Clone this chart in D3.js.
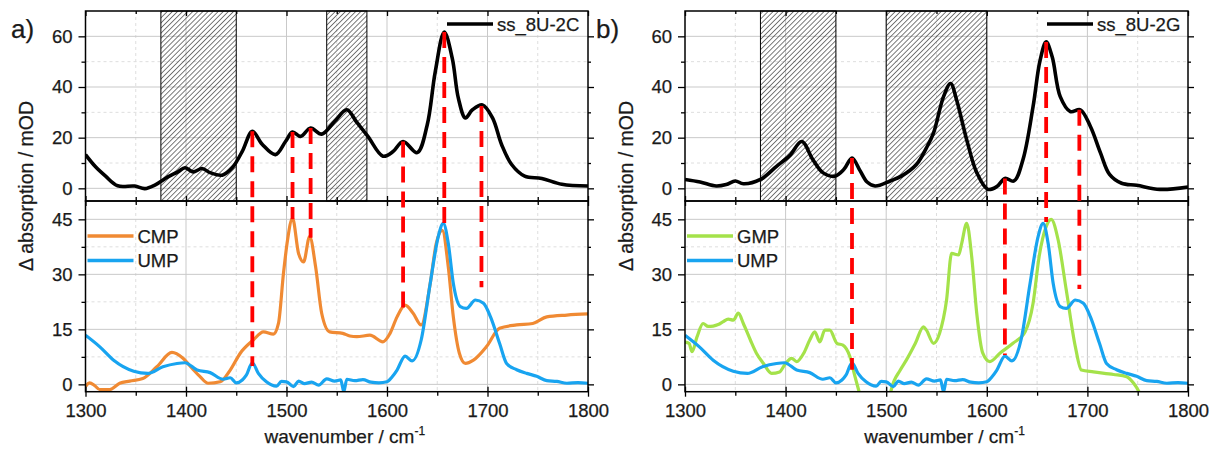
<!DOCTYPE html>
<html>
<head>
<meta charset="utf-8">
<script src="https://cdnjs.cloudflare.com/ajax/libs/d3/7.8.5/d3.min.js"></script>
<style>
body{margin:0;background:#fff;}
text{font-family:"Liberation Sans",Arial,sans-serif;fill:#1a1a1a;stroke:#1a1a1a;stroke-width:0.25px;}
.gridMajor{stroke:#c9c9c9;stroke-width:1;}
.gridMinor{stroke:#dedede;stroke-width:1;stroke-dasharray:3,3;}
.axis path{display:none;}
.axis line{stroke:#000;stroke-width:1.3;}
.axis text{font-size:18.5px;}
.frame{fill:none;stroke:#000;stroke-width:1.5;}
</style>
</head>
<body>
<script>
(function(){

//x axis ticks shared by all four plots
var xTicks = [1300,1400,1500,1600,1700,1800];
var xMinor = [1350,1450,1550,1650,1750];
var topTicks = [0,20,40,60];
var topMinor = [10,30,50];
var bottomTicks = [0,15,30,45];
var bottomMinor = [7.5,22.5,37.5];

//panel a, upper plot: ss_8U-2C
var ss2C_wn = [1300,1310,1320,1332,1349,1359,1369,1382,1392,1399,1407,1416,1424,1436,1446,1456,1466,1476,1489,1499,1506,1514,1524,1535,1548,1560,1570,1581,1596,1606,1616,1630,1640,1648,1657,1665,1671,1678,1685,1695,1705,1714,1724,1737,1754,1774,1800];
var ss2C_abs = [13.3,8.5,4.8,1.0,0.9,-0.1,1.3,4.5,6.5,8.1,6.5,7.8,6.2,5.2,8.1,14.6,22.5,17.3,13.3,18.5,22.2,20.5,23.8,21.4,26.5,31,26,20.5,12.7,14.5,18.5,14.1,25,46,61.7,51.2,35.6,27.8,31,32.9,27.8,17.3,9.4,4.8,3.9,1.6,0.9];

//panel b, upper plot: ss_8U-2G
var ss2G_wn = [1300,1315,1331,1341,1350,1358,1375,1391,1404,1416,1427,1437,1449,1458,1466,1474,1481,1489,1504,1515,1530,1540,1547,1557,1564,1570,1580,1590,1601,1610,1618,1627,1636,1646,1653,1659,1665,1673,1683,1693,1703,1713,1722,1734,1749,1772,1800];
var ss2G_abs = [3.5,2.5,0.9,1.5,2.9,1.8,3.5,8.7,12.9,18.5,11.4,6.2,4.8,7.5,12,7,2.5,0.9,2.9,4.8,9.4,16,21.8,36.2,41.4,34.9,19.2,6.2,-0.4,0.7,3.9,2.9,11.4,32.3,50.6,57.8,51.9,36.2,30.3,31,24.4,14,5.5,2,1.2,-0.4,0.5];

//lower plots: CMP
var cmp_wn = [1300,1304,1309,1314,1324,1334,1344,1357,1371,1386,1397,1406,1414,1422,1434,1444,1454,1467,1477,1487,1492,1497,1501,1506,1512,1517,1523,1529,1535,1543,1556,1563,1570,1583,1596,1603,1610,1618,1626,1634,1643,1649,1655,1661,1666,1672,1678,1686,1699,1712,1729,1745,1759,1779,1800];
var cmp_abs = [-0.6,0.4,-0.3,-1.4,-1.4,0.3,0.9,1.6,4.8,8.7,7.1,4.4,2.1,0.3,0.7,3.9,8.5,12.1,14.3,13.7,16.6,30.3,39.3,45.3,35.7,33.4,40.3,32,19.4,14.3,13.9,13.2,13,13.4,11.6,13.9,18.4,21.6,19.4,16.2,27.5,38.4,42,32,18.4,8.5,5.7,6.6,10.3,15.3,16.2,16.6,18.4,18.9,19.2];

//UMP (same trace in both panels)
var ump_wn = [1300,1314,1328,1348,1362,1377,1391,1399,1411,1424,1437,1444,1450,1456,1460,1466,1472,1480,1490,1495,1500,1507,1512,1518,1525,1532,1540,1548,1554,1557,1560,1568,1576,1584,1592,1600,1605,1610,1618,1625,1634,1643,1651,1656,1661,1666,1673,1679,1688,1696,1703,1712,1719,1729,1739,1749,1759,1769,1779,1790,1800];
var ump_abs = [13.4,10.3,6.6,3.6,3.0,4.8,5.7,5.9,3.9,3.2,1.4,1.8,0.4,1.2,2.5,5.9,3.0,0.7,-0.5,0.8,0.7,-0.6,0.9,0.2,0.6,-0.2,1.5,0.9,1.2,-2,1.4,1.0,1.3,0.6,0.4,0.7,2.0,3.9,7.7,6.4,12.1,27.5,40.3,43.9,38.4,27.5,21.2,20.7,23,22.1,18.4,11.2,5.7,4.0,3.0,2.2,1.0,0.8,0.3,0.5,0.3];

//GMP
var gmp_wn = [1300,1304,1307,1312,1318,1323,1328,1333,1338,1343,1348,1353,1358,1365,1371,1378,1386,1394,1399,1406,1411,1418,1424,1429,1434,1439,1444,1451,1457,1464,1469,1474,1480,1500,1505,1514,1520,1529,1537,1540,1547,1553,1560,1565,1572,1575,1580,1585,1590,1596,1603,1613,1626,1638,1646,1652,1659,1664,1671,1679,1688,1694,1706,1726,1739,1746,1752,1756];
var gmp_abs = [11.5,11.2,8.9,13,16.6,15.8,15.9,16.3,17.1,17.8,17.5,19.4,16.6,12.1,8.5,5.7,3,3.4,5.3,7.1,6.2,8.5,12.1,14.3,11.6,14.8,14.8,11.2,10.7,7.5,2.1,-3,-10,-10,-1.5,3.9,6.6,11.2,15.7,14.8,11.2,13.9,23,35.7,35.3,38.4,43.9,34.8,19.4,8.5,6.2,8.5,11.2,14.3,22.1,34.8,43,45,39.3,25.7,10.3,3.9,3.4,2.7,2.1,0.3,-2.4,-5];

//hatched ranges in the upper plots
var hatchA = [[1375,1450],[1540,1580]];
var hatchB = [[1375,1450],[1500,1600]];

//red dashed markers: wavenumber, value in upper plot, value in lower plot
var markA_wn = [1466,1506,1524,1616,1657,1694];
var markA_top = [22.5,22.2,23.8,18.5,61.7,32.5];
var markA_bottom = [5,45,40,20,43,26.5];
var markB_wn = [1466,1618,1659,1692];
var markB_top = [12,3.9,57.8,31];
var markB_bottom = [4,8,44.3,26];

var colors = {ss:"#000000", cmp:"#f08a33", ump:"#18a4f0", gmp:"#a4e24a", mark:"#ff0000"};

var width = 1217, height = 450;

var svg = d3.select("body")
    .append("svg")
    .attr("width", width)
    .attr("height", height);

//hatch pattern
var defs = svg.append("defs");
defs.append("pattern")
    .attr("id", "hatch")
    .attr("patternUnits", "userSpaceOnUse")
    .attr("width", 3.6)
    .attr("height", 3.6)
    .attr("patternTransform", "rotate(45)")
    .append("line")
    .attr("x1", 0).attr("y1", 0)
    .attr("x2", 0).attr("y2", 3.6)
    .attr("stroke", "#222")
    .attr("stroke-width", 1.2);

function zip(xs, ys){
    return xs.map(function(x, i){ return [x, ys[i]]; });
}

drawPanel({
    id: "a", label: "a)", labelX: 11, left: 85.5, right: 588,
    topName: "ss_8U-2C", topData: zip(ss2C_wn, ss2C_abs),
    hatch: hatchA,
    bottomSeries: [
        {name: "CMP", color: colors.cmp, data: zip(cmp_wn, cmp_abs)},
        {name: "UMP", color: colors.ump, data: zip(ump_wn, ump_abs)}
    ],
    marks: {wn: markA_wn, top: markA_top, bottom: markA_bottom}
});

drawPanel({
    id: "b", label: "b)", labelX: 596, left: 685, right: 1188,
    topName: "ss_8U-2G", topData: zip(ss2G_wn, ss2G_abs),
    hatch: hatchB,
    bottomSeries: [
        {name: "GMP", color: colors.gmp, data: zip(gmp_wn, gmp_abs)},
        {name: "UMP", color: colors.ump, data: zip(ump_wn, ump_abs)}
    ],
    marks: {wn: markB_wn, top: markB_top, bottom: markB_bottom}
});

function drawPanel(p){
    var top0 = 11, mid = 201, bottom0 = 391.7;

    var x = d3.scaleLinear().domain([1300,1800]).range([p.left, p.right]);
    var yTop = d3.scaleLinear().domain([-5,70]).range([mid, top0]);
    var yBot = d3.scaleLinear().domain([-2,50]).range([bottom0, mid]);

    var g = svg.append("g").attr("class", "panel-" + p.id);

    //clip paths for both plots
    defs.append("clipPath").attr("id", "clipTop" + p.id)
        .append("rect").attr("x", p.left).attr("y", top0)
        .attr("width", p.right - p.left).attr("height", mid - top0);
    defs.append("clipPath").attr("id", "clipBot" + p.id)
        .append("rect").attr("x", p.left).attr("y", mid)
        .attr("width", p.right - p.left).attr("height", bottom0 - mid);

    //grid lines
    function grid(yScale, majors, minors, y0, y1){
        var gg = g.append("g");
        gg.selectAll(".gx").data(xTicks.slice(1, -1)).enter().append("line")
            .attr("class", "gridMajor")
            .attr("x1", function(d){ return x(d); }).attr("x2", function(d){ return x(d); })
            .attr("y1", y0).attr("y2", y1);
        gg.selectAll(".gxm").data(xMinor).enter().append("line")
            .attr("class", "gridMinor")
            .attr("x1", function(d){ return x(d); }).attr("x2", function(d){ return x(d); })
            .attr("y1", y0).attr("y2", y1);
        gg.selectAll(".gy").data(majors).enter().append("line")
            .attr("class", "gridMajor")
            .attr("y1", function(d){ return yScale(d); }).attr("y2", function(d){ return yScale(d); })
            .attr("x1", p.left).attr("x2", p.right);
        gg.selectAll(".gym").data(minors).enter().append("line")
            .attr("class", "gridMinor")
            .attr("y1", function(d){ return yScale(d); }).attr("y2", function(d){ return yScale(d); })
            .attr("x1", p.left).attr("x2", p.right);
    }
    grid(yTop, topTicks, topMinor, top0, mid);
    grid(yBot, bottomTicks, bottomMinor, mid, bottom0);

    //hatched regions
    g.selectAll(".hatch").data(p.hatch).enter().append("rect")
        .attr("class", "hatch")
        .attr("x", function(d){ return x(d[0]); })
        .attr("width", function(d){ return x(d[1]) - x(d[0]); })
        .attr("y", top0)
        .attr("height", mid - top0)
        .attr("fill", "url(#hatch)")
        .attr("stroke", "#000")
        .attr("stroke-width", 1);

    //upper curve
    var lineTop = d3.line()
        .x(function(d){ return x(d[0]); })
        .y(function(d){ return yTop(d[1]); })
        .curve(d3.curveCatmullRom.alpha(0.5));
    g.append("path")
        .datum(p.topData)
        .attr("clip-path", "url(#clipTop" + p.id + ")")
        .attr("d", lineTop)
        .attr("fill", "none")
        .attr("stroke", colors.ss)
        .attr("stroke-width", 3.6)
        .attr("stroke-linejoin", "round");

    //lower curves
    var lineBot = d3.line()
        .x(function(d){ return x(d[0]); })
        .y(function(d){ return yBot(d[1]); })
        .curve(d3.curveMonotoneX);
    g.selectAll(".series").data(p.bottomSeries).enter().append("path")
        .attr("clip-path", "url(#clipBot" + p.id + ")")
        .attr("d", function(d){ return lineBot(d.data); })
        .attr("fill", "none")
        .attr("stroke", function(d){ return d.color; })
        .attr("stroke-width", 3.2)
        .attr("stroke-linejoin", "round");

    //axes
    var fmt = d3.format("d");
    function axisG(gen, tx, ty){
        return g.append("g").attr("class", "axis")
            .attr("transform", "translate(" + tx + "," + ty + ")").call(gen);
    }
    //left
    axisG(d3.axisLeft(yTop).tickValues(topTicks).tickSize(7).tickPadding(6).tickFormat(fmt), p.left, 0);
    axisG(d3.axisLeft(yTop).tickValues(topMinor).tickSize(4).tickFormat(""), p.left, 0);
    axisG(d3.axisLeft(yBot).tickValues(bottomTicks).tickSize(7).tickPadding(6).tickFormat(fmt), p.left, 0);
    axisG(d3.axisLeft(yBot).tickValues(bottomMinor).tickSize(4).tickFormat(""), p.left, 0);
    //right (inward)
    axisG(d3.axisLeft(yTop).tickValues(topTicks).tickSize(6).tickFormat(""), p.right + 6, 0);
    axisG(d3.axisLeft(yTop).tickValues(topMinor).tickSize(3).tickFormat(""), p.right + 3, 0);
    axisG(d3.axisLeft(yBot).tickValues(bottomTicks).tickSize(6).tickFormat(""), p.right + 6, 0);
    axisG(d3.axisLeft(yBot).tickValues(bottomMinor).tickSize(3).tickFormat(""), p.right + 3, 0);
    //top (inward)
    axisG(d3.axisBottom(x).tickValues(xTicks).tickSize(5).tickFormat(""), 0, top0);
    axisG(d3.axisBottom(x).tickValues(xMinor).tickSize(3).tickFormat(""), 0, top0);
    //shared line (crossing ticks)
    axisG(d3.axisBottom(x).tickValues(xTicks).tickSize(10).tickFormat(""), 0, mid - 5);
    axisG(d3.axisBottom(x).tickValues(xMinor).tickSize(8).tickFormat(""), 0, mid - 4);
    //bottom
    axisG(d3.axisBottom(x).tickValues(xTicks).tickSize(10).tickFormat(""), 0, bottom0 - 5);
    axisG(d3.axisBottom(x).tickValues(xMinor).tickSize(4).tickFormat(""), 0, bottom0);
    axisG(d3.axisBottom(x).tickValues(xTicks).tickSize(0).tickPadding(12).tickFormat(fmt), 0, bottom0);

    //frames
    g.append("rect").attr("class", "frame")
        .attr("x", p.left).attr("y", top0)
        .attr("width", p.right - p.left).attr("height", mid - top0);
    g.append("rect").attr("class", "frame")
        .attr("x", p.left).attr("y", mid)
        .attr("width", p.right - p.left).attr("height", bottom0 - mid);

    //red dashed markers
    var marks = p.marks.wn.map(function(w, i){
        return [[x(w), yTop(p.marks.top[i])], [x(w), yBot(p.marks.bottom[i])]];
    });
    g.selectAll(".mark").data(marks).enter().append("path")
        .attr("d", d3.line())
        .attr("stroke", colors.mark)
        .attr("stroke-width", 3.8)
        .attr("stroke-dasharray", "16,9")
        .attr("fill", "none");

    //upper legend
    var lx = p.right - 141;
    g.append("line")
        .attr("x1", lx).attr("x2", lx + 46)
        .attr("y1", 24).attr("y2", 24)
        .attr("stroke", colors.ss).attr("stroke-width", 3.6);
    g.append("text")
        .attr("x", lx + 50).attr("y", 30.5)
        .style("font-size", "18.5px")
        .text(p.topName);

    //lower legend
    p.bottomSeries.forEach(function(s, i){
        var ly = 236 + i * 24.5;
        g.append("line")
            .attr("x1", p.left + 2).attr("x2", p.left + 48)
            .attr("y1", ly).attr("y2", ly)
            .attr("stroke", s.color).attr("stroke-width", 3.6);
        g.append("text")
            .attr("x", p.left + 52).attr("y", ly + 6.5)
            .style("font-size", "18.5px")
            .text(s.name);
    });

    //axis titles
    var xt = g.append("text")
        .attr("x", (p.left + p.right) / 2 + 8)
        .attr("y", 443)
        .attr("text-anchor", "middle")
        .style("font-size", "19px");
    xt.append("tspan").text("wavenumber / cm");
    xt.append("tspan").attr("dy", -8).style("font-size", "12px").text("-1");

    g.append("text")
        .attr("transform", "translate(" + (p.left - 52.5) + ",186) rotate(-90)")
        .attr("text-anchor", "middle")
        .style("font-size", "19.5px")
        .text("\u0394 absorption / mOD");

    //panel label
    g.append("text")
        .attr("x", p.labelX).attr("y", 38)
        .style("font-size", "26px")
        .text(p.label);
}

})();
</script>
</body>
</html>
